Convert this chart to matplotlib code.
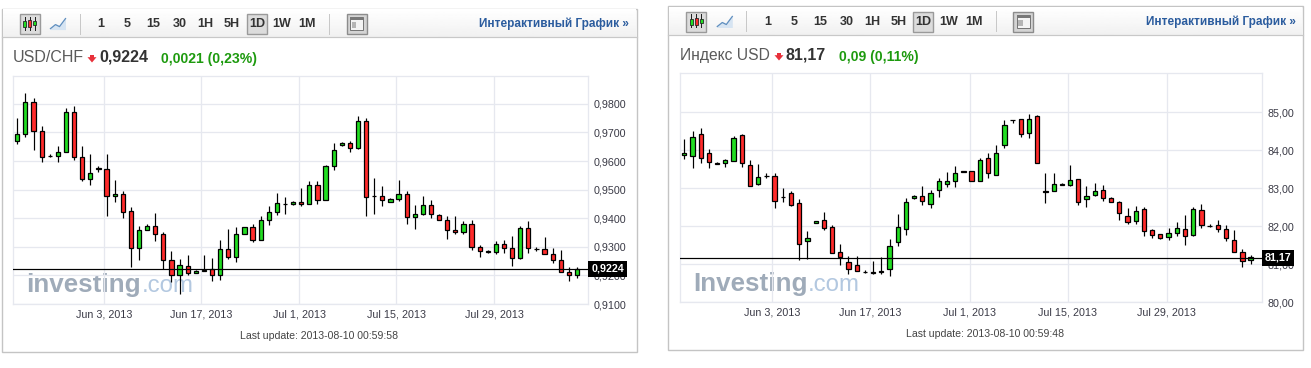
import matplotlib
matplotlib.use("Agg")
import matplotlib.pyplot as plt
from matplotlib.patches import Rectangle, Polygon
import numpy as np

# ---------- data ----------
date_ticks = [10.72, 22.67, 34.75, 46.7, 58.77]
date_labels = ["Jun 3, 2013", "Jun 17, 2013", "Jul 1, 2013", "Jul 15, 2013", "Jul 29, 2013"]

chf_ticks = [0.91, 0.92, 0.93, 0.94, 0.95, 0.96, 0.97, 0.98]
chf_tick_labels = ["0,9100", "0,9200", "0,9300", "0,9400", "0,9500", "0,9600", "0,9700", "0,9800"]
chf_last = 0.9224
chf_open = [.9671,.9695,.9807,.9706,.9617,.9617,.9631,.9772,.9615,.9538,.9574,.9573,.9478,.9485,.9425,.9296,.9359,.9373,.9345,.9254,
            .9201,.9233,.9208,.9215,.9222,.9201,.9292,.9264,.9345,.9369,.9324,.9394,.9422,.9451,.9449,.9457,.9450,.9516,.9463,.9583,
            .9655,.9664,.9646,.9741,.9477,.9478,.9457,.9467,.9485,.9404,.9415,.9446,.9411,.9394,.9359,.9352,.9380,.9299,.9284,.9282,
            .9310,.9296,.9261,.9366,.9294,.9292,.9275,.9254,.9212,.9201]
chf_close = [.9695,.9807,.9704,.9615,.9616,.9631,.9772,.9615,.9538,.9559,.9573,.9477,.9485,.9422,.9296,.9359,.9373,.9345,.9254,.9201,
             .9236,.9208,.9215,.9220,.9201,.9292,.9264,.9345,.9369,.9324,.9394,.9422,.9453,.9450,.9456,.9449,.9516,.9463,.9583,.9639,
             .9664,.9646,.9741,.9474,.9476,.9464,.9467,.9485,.9404,.9415,.9446,.9415,.9394,.9359,.9352,.9380,.9299,.9285,.9283,.9310,
             .9296,.9261,.9366,.9296,.9293,.9275,.9254,.9212,.9201,.9221]
chf_high = [.9752,.9838,.9819,.9721,.9625,.9651,.9784,.9791,.9654,.9626,.9584,.9626,.9535,.9495,.9439,.9373,.9380,.9418,.9352,.9285,
            .9257,.9271,.9219,.9271,.9260,.9324,.9361,.9369,.9369,.9380,.9408,.9443,.9488,.9474,.9460,.9506,.9529,.9529,.9585,.9664,
            .9666,.9671,.9756,.9749,.9539,.9514,.9471,.9535,.9495,.9446,.9478,.9464,.9415,.9408,.9408,.9390,.9394,.9306,.9289,.9320,
            .9324,.9338,.9373,.9390,.9299,.9333,.9296,.9289,.9229,.9229]
chf_low = [.9658,.9683,.9638,.9596,.9615,.9596,.9631,.9602,.9531,.9515,.9563,.9409,.9456,.9401,.9228,.9253,.9359,.9319,.9222,.9176,
           .9134,.9201,.9208,.9215,.9179,.9183,.9256,.9246,.9345,.9316,.9324,.9376,.9411,.9415,.9445,.9443,.9450,.9449,.9463,.9568,
           .9652,.9631,.9641,.9408,.9414,.9442,.9457,.9460,.9381,.9363,.9411,.9401,.9394,.9326,.9344,.9344,.9288,.9266,.9277,.9274,
           .9278,.9232,.9257,.9278,.9285,.9275,.9243,.9212,.9179,.9192]

dxy_ticks = [80, 81, 82, 83, 84, 85]
dxy_tick_labels = ["80,00", "81,00", "82,00", "83,00", "84,00", "85,00"]
dxy_last = 81.17
dxy_open = [83.87,83.84,84.42,83.92,83.66,83.66,83.71,84.40,83.61,83.11,83.33,83.32,82.77,82.87,82.61,81.61,82.08,82.16,81.98,81.32,
            81.06,80.98,80.80,80.79,80.82,80.87,81.58,81.93,82.74,82.79,82.58,82.95,83.12,83.20,83.45,83.45,83.19,83.79,83.34,84.13,
            84.81,84.82,84.47,84.90,82.92,82.94,83.11,83.09,83.24,82.71,82.82,82.95,82.74,82.63,82.26,82.13,82.45,81.90,81.79,81.71,
            81.82,81.92,81.77,82.42,82.01,82.03,81.92,81.63,81.32,81.11]
dxy_close = [83.92,84.34,83.79,83.69,83.65,83.74,84.32,83.66,83.05,83.29,83.32,82.68,82.76,82.57,81.53,81.69,82.13,81.95,81.29,81.18,
             80.87,80.82,80.81,80.78,80.81,81.48,81.98,82.63,82.79,82.68,82.87,83.19,83.19,83.40,83.44,83.19,83.76,83.40,83.94,84.68,
             84.79,84.42,84.82,83.66,82.91,83.11,83.10,83.21,82.63,82.79,82.92,82.74,82.63,82.34,82.11,82.40,81.87,81.77,81.69,81.82,
             81.95,81.74,82.45,82.03,82.02,81.92,81.69,81.32,81.08,81.18]
dxy_high = [84.29,84.50,84.59,84.03,83.70,83.77,84.37,84.42,83.74,83.63,83.41,83.40,83.01,82.92,82.71,81.87,82.13,82.37,82.03,81.53,
            81.21,81.21,80.84,81.08,81.19,81.66,82.32,82.74,82.82,83.05,82.95,83.27,83.42,83.58,83.46,83.45,83.81,83.92,84.13,84.79,
            84.81,84.82,84.95,84.92,83.41,83.41,83.13,83.62,83.24,83.05,83.15,83.10,82.76,82.66,82.47,82.53,82.50,81.92,81.79,81.95,
            82.11,82.29,82.50,82.58,82.05,82.16,82.03,81.90,81.40,81.24]
dxy_low = [83.77,83.53,83.68,83.53,83.64,83.57,83.71,83.56,83.05,83.08,83.27,82.48,82.65,82.54,81.11,81.13,82.08,81.90,81.29,80.98,
           80.74,80.82,80.78,80.74,80.74,80.69,81.48,81.78,82.72,82.55,82.47,82.76,83.04,83.03,83.42,83.19,83.19,83.28,83.34,84.07,
           84.73,84.36,84.33,83.66,82.62,82.94,83.09,83.07,82.57,82.52,82.79,82.66,82.63,82.16,82.05,82.05,81.74,81.69,81.66,81.63,
           81.74,81.52,81.74,81.95,81.99,81.84,81.61,81.32,80.92,81.00]

# ---------- page ----------
W, H = 1311, 368
SANS = ["Liberation Sans", "DejaVu Sans"]
plt.rcParams["font.family"] = SANS
GRID = "#e6e8ef"
UP, DOWN = "#22dd22", "#ff2b2b"

fig = plt.figure(figsize=(W / 100, H / 100), dpi=100, facecolor="white")
bg = fig.add_axes([0, 0, 1, 1], zorder=0)
bg.set_xlim(0, W)
bg.set_ylim(H, 0)
bg.axis("off")


def px(n):
    return n * 0.72


def chrome(x0, x1, y0, y1, bar):
    bg.add_patch(Rectangle((x0, y0), x1 - x0, y1 - y0, fc="white", ec="#c4c4c4", lw=px(1.4)))
    grad = np.linspace(1, 0.945, 24)[:, None]
    bg.imshow(grad, extent=(x0 + 1, x1 - 1, bar, y0 + 1), cmap="gray", vmin=0, vmax=1, aspect="auto", zorder=1)
    bg.set_xlim(0, W)
    bg.set_ylim(H, 0)
    bg.plot([x0, x1], [bar, bar], color="#c8c8c8", lw=px(1.2), zorder=2)
    cy = (y0 + bar) / 2 + 0.7
    # candlestick button
    bg.add_patch(Rectangle((x0 + 18, cy - 10), 20, 20, fc="#dcdcdc", ec="#9a9a9a", lw=px(1.4), zorder=2))
    for dx, c, t, b in [(23, UP, -3, 3), (28, DOWN, -4, 3), (33, UP, -3, 1)]:
        bg.plot([x0 + dx, x0 + dx], [cy - 7, cy + 6], color="#222", lw=px(1), zorder=3)
        bg.add_patch(Rectangle((x0 + dx - 1.5, cy + t), 3, b - t, fc=c, ec="#222", lw=px(0.8), zorder=3))
    # line icon
    lx = np.array([49, 54, 58, 64]) + x0
    ly = np.array([5, 1, 3, -5]) + cy
    bg.fill_between(lx, ly, cy + 6, color="#d6e4f2", lw=0, zorder=2)
    bg.plot(lx, ly, color="#5f8fc0", lw=px(1.3), zorder=3)
    # separators
    for sx in (78, 327.8):
        bg.plot([x0 + sx] * 2, [cy - 10, cy + 10], color="#c8c8c8", lw=px(1), zorder=2)
    # intervals
    bg.add_patch(Rectangle((x0 + 245, cy - 10), 20, 20, fc="#dcdcdc", ec="#9a9a9a", lw=px(1.4), zorder=2))
    for lab, dx in zip(["1", "5", "15", "30", "1H", "5H", "1D", "1W", "1M"],
                       [99.7, 125.7, 152.2, 178.2, 204.2, 230, 255.5, 280.5, 305.5]):
        bg.text(x0 + dx, cy + 0.5, lab, ha="center", va="center", fontsize=px(12.5), fontweight="bold", color="#333", zorder=4)
    # layout button
    bg.add_patch(Rectangle((x0 + 345, cy - 10), 20, 20, fc="#d4d4d4", ec="#8c8c8c", lw=px(1.4), zorder=2))
    bg.add_patch(Rectangle((x0 + 348.5, cy - 6.5), 13, 13, fc="#f4f4f4", ec="#777", lw=px(1), zorder=3))
    bg.add_patch(Rectangle((x0 + 348.5, cy - 6.5), 13, 3, fc="#777", ec="none", zorder=3))
    bg.add_patch(Rectangle((x0 + 350, cy - 2), 4.5, 6, fc="#b5b5b5", ec="none", zorder=3))
    bg.text(x1 - 7.3, cy + 0.3, "Интерактивный График »", ha="right", va="center", fontsize=px(11.7),
            fontweight="bold", color="#2b5c9e", zorder=4)


def title(x, y, name, name_w, last, size):
    bg.text(x, y, name, ha="left", va="center", fontsize=px(size), color="#5a5a5a")
    ax_ = x + name_w + 10
    bg.add_patch(Polygon([(ax_ - 4.5, y - 0.3), (ax_ + 4.5, y - 0.3), (ax_, y + 5)], fc="#e8303a", ec="none"))
    bg.add_patch(Rectangle((ax_ - 1.8, y - 2.5), 3.6, 2.5, fc="#e8303a", ec="none"))
    bg.text(ax_ + 7, y, last, ha="left", va="center", fontsize=px(16), fontweight="bold", color="#333")


def logo(x, y, word, dot_x):
    bg.text(x, y, word, ha="left", va="baseline", fontsize=px(26), fontweight="bold", color="#9fabb9",
            family=["Liberation Sans", "DejaVu Sans"], zorder=1)
    bg.text(dot_x, y, ".com", ha="left", va="baseline", fontsize=px(24), color="#b3c8e0",
            family=["Liberation Sans Narrow", "Liberation Sans"], zorder=1)


def chart(rect, ylim, o, h, l, c, yticks, ylabels, last, lastlab, tag_dx):
    x0, y0, x1, y1 = rect
    ax = fig.add_axes([x0 / W, 1 - y1 / H, (x1 - x0) / W, (y1 - y0) / H], zorder=2)
    ax.patch.set_alpha(0)
    n = len(o)
    xs = np.arange(n)
    ax.set_xlim(-0.49, 70.35)
    ax.set_ylim(*ylim)
    ax.set_axisbelow(True)
    ax.grid(True, color=GRID, lw=px(1.3))
    for s in ax.spines.values():
        s.set_color(GRID)
        s.set_linewidth(px(1.3))
    o, h, l, c = map(np.array, (o, h, l, c))
    ax.vlines(xs, l, h, color="black", lw=px(1.2), zorder=3)
    cols = [UP if cc >= oo else DOWN for oo, cc in zip(o, c)]
    ax.bar(xs, c - o, bottom=o, width=0.52, color=cols, edgecolor="black", lw=px(1.25), zorder=4)
    ax.axhline(last, color="black", lw=px(1.2), zorder=5)
    ax.yaxis.tick_right()
    ax.set_yticks(yticks, ylabels)
    ax.set_xticks(date_ticks, date_labels)
    ax.tick_params(axis="both", length=0, labelsize=px(10.7), labelcolor="#3a3a46")
    ax.tick_params(axis="y", pad=px(6))
    ax.tick_params(axis="x", pad=px(5.5))
    ax.annotate(lastlab, xy=(1.0, last), xycoords=ax.get_yaxis_transform(), xytext=(px(tag_dx), 0),
                textcoords="offset points", ha="center", va="center", color="white",
                fontsize=px(10.7), fontweight="bold", annotation_clip=False, zorder=10,
                bbox=dict(boxstyle="square,pad=0.28", fc="black", ec="black", lw=0))
    return ax


# left panel
chrome(1.5, 636.5, 8.5, 352.3, 37.3)
title(12.5, 57.5, "USD/CHF", 69.5, "0,9224", 16)
bg.text(161, 58.7, "0,0021 (0,23%)", ha="left", va="center", fontsize=px(14), fontweight="bold", color="#1d9a0e")
logo(26, 292, "investing", 142)
chart((13.3, 75.5, 588, 304), (0.91, 0.9899), chf_open, chf_high, chf_low, chf_close,
      chf_ticks, chf_tick_labels, chf_last, "0,9224", 19.5)
bg.text(318.8, 335.7, "Last update: 2013-08-10 00:59:58", ha="center", va="center", fontsize=px(10.55), color="#444")

# right panel
chrome(668.3, 1303.3, 6.3, 350.3, 35.3)
title(679.5, 55.5, "Индекс USD", 89.5, "81,17", 15.6)
bg.text(839, 56.7, "0,09 (0,11%)", ha="left", va="center", fontsize=px(14), fontweight="bold", color="#1d9a0e")
logo(693, 290.7, "Investing", 808)
chart((680.3, 73.3, 1261.7, 302.3), (80, 86.03), dxy_open, dxy_high, dxy_low, dxy_close,
      dxy_ticks, dxy_tick_labels, dxy_last, "81,17", 16.2)
bg.text(985.5, 333.7, "Last update: 2013-08-10 00:59:48", ha="center", va="center", fontsize=px(10.55), color="#444")

fig.savefig("out.png", dpi=100)
